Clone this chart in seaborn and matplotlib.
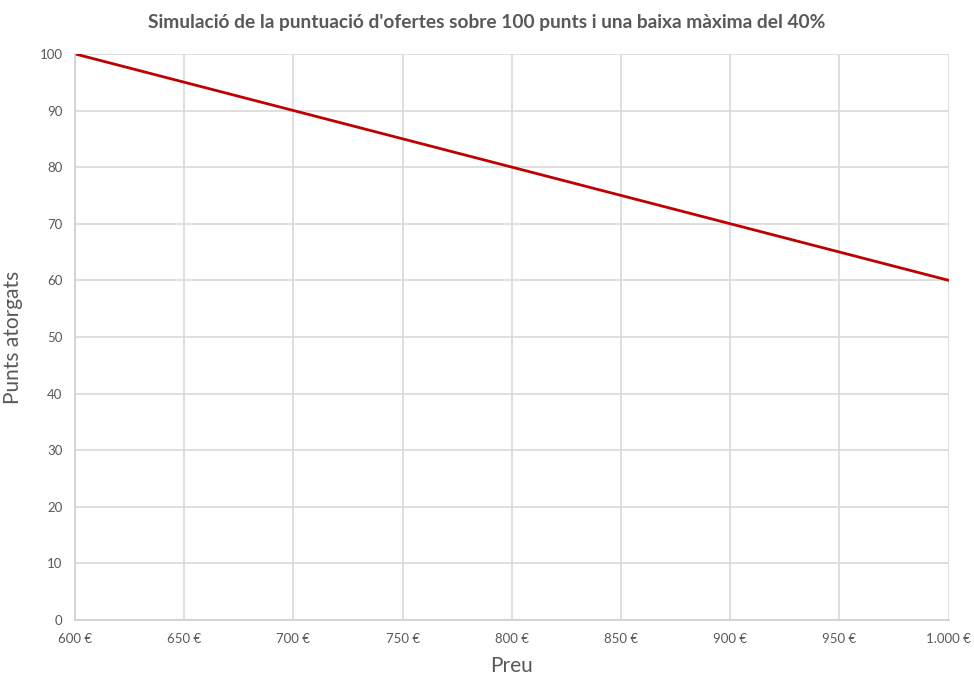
import matplotlib
matplotlib.use("Agg")
import matplotlib.pyplot as plt
import seaborn as sns
import pandas as pd

# Dades
preu = [600, 650, 700, 750, 800, 850, 900, 950, 1000]
punts = [100, 95, 90, 85, 80, 75, 70, 65, 60]
xtick_labels = ['600 €', '650 €', '700 €', '750 €', '800 €', '850 €', '900 €', '950 €', '1.000 €']
yticks = [0, 10, 20, 30, 40, 50, 60, 70, 80, 90, 100]

sns.set_style("white")
plt.rcParams['font.family'] = ['Lato', 'DejaVu Sans']

df = pd.DataFrame({'Preu': preu, 'Punts': punts})

fig = plt.figure(figsize=(9.74, 6.78), dpi=100)
ax = fig.add_axes([0.077, 0.0855, 0.897, 0.835])

sns.lineplot(data=df, x='Preu', y='Punts', color='#C00000', linewidth=2, ax=ax)

ax.set_xlim(600, 1000)
ax.set_ylim(0, 100)
ax.set_xticks(preu)
ax.set_xticklabels(xtick_labels)
ax.set_yticks(yticks)
ax.tick_params(axis='both', colors='#595959', labelsize=9.5, length=0, pad=9)
ax.grid(True, color='#D9D9D9', linewidth=1.2)
ax.set_axisbelow(True)
for side in ['top', 'right']:
    ax.spines[side].set_visible(False)
for side in ['left', 'bottom']:
    ax.spines[side].set_color('#D0D0D0')
    ax.spines[side].set_linewidth(1.2)

ax.set_xlabel('Preu', fontsize=15, color='#595959', labelpad=8)
ax.set_ylabel('Punts atorgats', fontsize=15, color='#595959', labelpad=12)
fig.suptitle("Simulació de la puntuació d'ofertes sobre 100 punts i una baixa màxima del 40%",
             fontsize=13.8, fontweight='bold', color='#595959', x=0.5, y=0.98)

fig.savefig('out.png', dpi=100)
